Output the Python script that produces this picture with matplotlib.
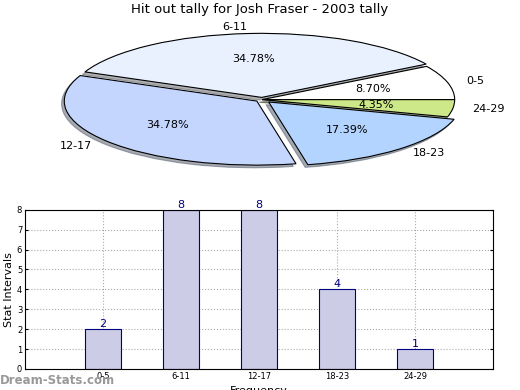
import matplotlib
matplotlib.use("Agg")
import matplotlib.pyplot as plt
import numpy as np

# data
categories = ["0-5", "6-11", "12-17", "18-23", "24-29"]
counts = [2, 8, 8, 4, 1]
pie_colors = ["#ffffff", "#eaf1fe", "#c4d6fe", "#b3d4ff", "#cce888"]
explode = [0.0, 0.035, 0.035, 0.05, 0.0]

fig = plt.figure(figsize=(5.2, 3.9), dpi=100)
fig.text(0.5, 0.975, "Hit out tally for Josh Fraser - 2003 tally",
         ha="center", va="center", fontsize=9.5)

# Pie (squashed ellipse)
ax_pie = fig.add_axes([0.004, 0.531, 1.0, 0.427])
wedges, texts, autotexts = ax_pie.pie(
    counts, labels=categories, colors=pie_colors, explode=explode,
    autopct="%1.2f%%", shadow=dict(ox=-0.01, oy=-0.03, shade=0.6),
    startangle=0, counterclock=True,
    wedgeprops=dict(edgecolor="black", linewidth=0.8),
    textprops=dict(fontsize=8))
ax_pie.set_aspect("auto")
ax_pie.set_xlim(-1.35, 1.35)
ax_pie.set_ylim(-1.3, 1.3)
ax_pie.axis("off")

# Bars
ax = fig.add_axes([0.048, 0.054, 0.9, 0.408])
x = np.arange(len(categories))
ax.bar(x, counts, width=0.46, color="#ccccE6", edgecolor="#000080",
       linewidth=0.8, zorder=2)
for xi, c in zip(x, counts):
    ax.text(xi, c, str(c), ha="center", va="bottom", color="#000080",
            fontsize=8)
ax.set_xlim(-1, 5)
ax.set_ylim(0, 8)
ax.set_xticks(x)
ax.set_xticklabels(categories)
ax.set_yticks(range(9))
ax.tick_params(labelsize=6, direction="in", length=2, pad=2,
               right=True, top=False)
ax.grid(True, linestyle=":", color="#aaaaaa", linewidth=0.8, zorder=0)
ax.set_axisbelow(True)
ax.set_ylabel("Stat Intervals", fontsize=8, labelpad=2)
ax.set_xlabel("Frequency", fontsize=8, labelpad=4)

fig.text(0.0, 0.025, "Dream-Stats.com", ha="left", va="center",
         fontsize=8.5, color="#999999", fontweight="bold")

fig.savefig("out.png", dpi=100)
